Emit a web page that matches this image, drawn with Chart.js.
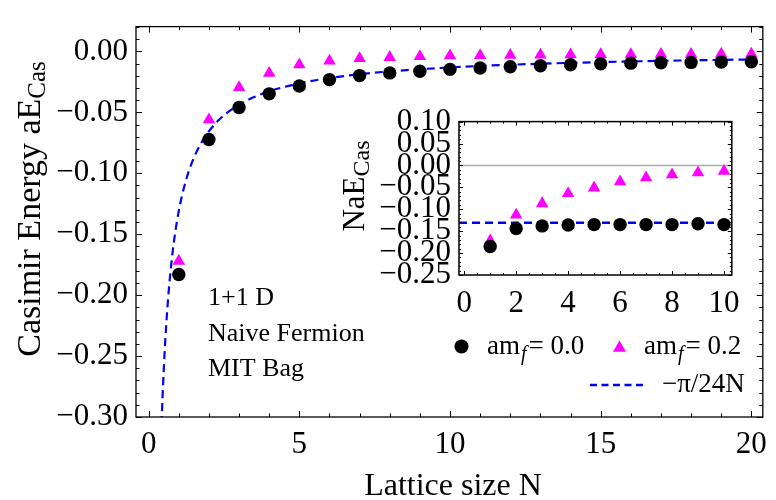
<!DOCTYPE html>
<html>
<head>
<meta charset="utf-8">
<script src="https://cdn.jsdelivr.net/npm/chart.js@4.4.1/dist/chart.umd.min.js"></script>
<style>
  html, body { margin: 0; padding: 0; background: #fff; }
  #wrap { position: relative; width: 776px; height: 500px; }
  #mainChart { position: absolute; left: 0; top: 0; }
  #insetChart { position: absolute; left: 330px; top: 95px; }
</style>
</head>
<body>
<div id="wrap">
  <canvas id="mainChart" width="776" height="500"></canvas>
  <canvas id="insetChart" width="420" height="220"></canvas>
</div>
<script>
// data
let latticeN = [1, 2, 3, 4, 5, 6, 7, 8, 9, 10, 11, 12, 13, 14, 15, 16, 17, 18, 19, 20];
let energyMassless = [-0.183, -0.0723, -0.046, -0.0348, -0.0283, -0.0231, -0.0198, -0.0176, -0.0163, -0.0147,
  -0.0136, -0.0125, -0.0117, -0.0109, -0.0101, -0.0096, -0.0093, -0.0090, -0.0087, -0.0084];
let energyMassive = [-0.172, -0.056, -0.0295, -0.0178, -0.0108, -0.0078, -0.0058, -0.0048, -0.0040, -0.0035,
  -0.0032, -0.0030, -0.0028, -0.0026, -0.0025, -0.0024, -0.0023, -0.0022, -0.0021, -0.0020];

let insetN = [1, 2, 3, 4, 5, 6, 7, 8, 9, 10];
let scaledMassless = [-0.185, -0.144, -0.138, -0.136, -0.135, -0.135, -0.135, -0.135, -0.133, -0.135];
let scaledMassive = [-0.172, -0.113, -0.087, -0.064, -0.051, -0.037, -0.028, -0.021, -0.0165, -0.013];

// N values where the -pi/24N reference curve is sampled
let curveN = [0.4, 0.42, 0.44, 0.46, 0.48, 0.5, 0.55, 0.6, 0.65, 0.7, 0.8, 0.9, 1, 1.1, 1.25, 1.4, 1.6, 1.8,
  2, 2.3, 2.6, 3, 3.5, 4, 5, 6, 7, 8, 10, 12, 14, 17, 20];

let mainXTicks = [0, 5, 10, 15, 20];
let mainYTicks = [-0.30, -0.25, -0.20, -0.15, -0.10, -0.05, 0.00];
let insetXTicks = [0, 2, 4, 6, 8, 10];
let insetYTicks = [-0.25, -0.20, -0.15, -0.10, -0.05, 0.00, 0.05, 0.10];

let serif = '"Liberation Serif", "Times New Roman", serif';
let blue = '#0000ff';
let magenta = '#ff00ff';

function range(a, b, step) {
  let out = [];
  for (let v = a; v <= b + 1e-9; v += step) out.push(Math.round(v * 1000) / 1000);
  return out;
}

function fmtY(v) {
  return (v < -1e-9 ? '\u2212' : '') + Math.abs(v).toFixed(2);
}

// pi/24N analytic reference (the legend's curve)
let curvePts = curveN.map(n => ({x: n, y: -Math.PI / (24 * n)}));
let insetLevel = -Math.PI / 24;

// inward frame ticks on all four sides, like Mathematica frames
let frameTicks = {
  id: 'frameTicks',
  afterDatasetsDraw(chart, args, o) {
    let ctx = chart.ctx;
    let a = chart.chartArea;
    let xs = chart.scales.x, ys = chart.scales.y;
    ctx.save();
    ctx.strokeStyle = '#000';
    ctx.lineWidth = 1;
    ctx.beginPath();
    let xt = (vals, len) => vals.forEach(v => {
      let p = Math.round(xs.getPixelForValue(v)) + 0.5;
      ctx.moveTo(p, a.bottom); ctx.lineTo(p, a.bottom - len);
      ctx.moveTo(p, a.top); ctx.lineTo(p, a.top + len);
    });
    let yt = (vals, len) => vals.forEach(v => {
      let p = Math.round(ys.getPixelForValue(v)) + 0.5;
      ctx.moveTo(a.left, p); ctx.lineTo(a.left + len, p);
      ctx.moveTo(a.right, p); ctx.lineTo(a.right - len, p);
    });
    xt(o.xMinor, o.minor); xt(o.xMajor, o.major);
    yt(o.yMinor, o.minor); yt(o.yMajor, o.major);
    ctx.stroke();
    ctx.lineWidth = o.frameWidth;
    ctx.strokeRect(a.left, a.top, a.right - a.left, a.bottom - a.top);
    ctx.restore();
  }
};

// text with a subscript, rotated to read bottom to top
function rotatedSub(ctx, bx, cy, main, sub, size, subSize, drop) {
  ctx.save();
  ctx.translate(bx, cy);
  ctx.rotate(-Math.PI / 2);
  ctx.font = size + 'px ' + serif;
  let w1 = ctx.measureText(main).width;
  ctx.font = subSize + 'px ' + serif;
  let w2 = ctx.measureText(sub).width;
  let x0 = -(w1 + w2) / 2;
  ctx.fillStyle = '#000';
  ctx.textBaseline = 'alphabetic';
  ctx.textAlign = 'left';
  ctx.font = size + 'px ' + serif;
  ctx.fillText(main, x0, 0);
  ctx.font = subSize + 'px ' + serif;
  ctx.fillText(sub, x0 + w1, drop);
  ctx.restore();
}

function amfLabel(ctx, x, y, value) {
  ctx.font = '27px ' + serif;
  ctx.fillText('am', x, y);
  x += ctx.measureText('am').width;
  ctx.font = 'italic 20px ' + serif;
  ctx.fillText('f', x + 1, y + 6);
  x += ctx.measureText('f').width + 3;
  ctx.font = '27px ' + serif;
  ctx.fillText('= ' + value, x, y);
}

function triangle(ctx, cx, cy, r) {
  ctx.beginPath();
  ctx.moveTo(cx, cy - r);
  ctx.lineTo(cx + r * 0.866, cy + r * 0.5);
  ctx.lineTo(cx - r * 0.866, cy + r * 0.5);
  ctx.closePath();
  ctx.fill();
}

let mainText = {
  id: 'mainText',
  afterDraw(chart) {
    let ctx = chart.ctx;
    ctx.save();
    rotatedSub(ctx, 40, 209, 'Casimir Energy aE', 'Cas', 34, 25, 5);

    ctx.fillStyle = '#000';
    ctx.textAlign = 'center';
    ctx.textBaseline = 'alphabetic';
    ctx.font = '32px ' + serif;
    ctx.fillText('Lattice size N', 453, 495);

    ctx.textAlign = 'left';
    ctx.font = '26px ' + serif;
    ctx.fillText('1+1 D', 208, 305);
    ctx.fillText('Naive Fermion', 208, 341);
    ctx.fillText('MIT Bag', 208, 376);

    // legend
    ctx.beginPath();
    ctx.arc(461.5, 346.5, 7, 0, Math.PI * 2);
    ctx.fill();
    amfLabel(ctx, 487, 354, '0.0');
    ctx.fillStyle = magenta;
    triangle(ctx, 619.5, 348, 7.5);
    ctx.fillStyle = '#000';
    amfLabel(ctx, 644, 354, '0.2');

    ctx.strokeStyle = blue;
    ctx.lineWidth = 2.5;
    ctx.setLineDash([7, 4.5]);
    ctx.beginPath();
    ctx.moveTo(590, 385);
    ctx.lineTo(645, 385);
    ctx.stroke();
    ctx.setLineDash([]);
    ctx.font = '27px ' + serif;
    ctx.fillText('\u2212\u03c0/24N', 662, 392);
    ctx.restore();
  }
};

let insetText = {
  id: 'insetText',
  afterDraw(chart) {
    rotatedSub(chart.ctx, 34, 91, 'NaE', 'Cas', 31, 24, 5);
  }
};

new Chart(document.getElementById('mainChart'), {
  type: 'scatter',
  data: {
    datasets: [{
      label: 'am_f = 0.0',
      data: latticeN.map((n, i) => ({x: n, y: energyMassless[i]})),
      pointStyle: 'circle',
      pointRadius: 6.7,
      backgroundColor: '#000',
      borderWidth: 0
    }, {
      label: 'am_f = 0.2',
      data: latticeN.map((n, i) => ({x: n, y: energyMassive[i]})),
      pointStyle: 'triangle',
      pointRadius: 7.2,
      backgroundColor: magenta,
      borderWidth: 0
    }, {
      label: '-pi/24N',
      type: 'line',
      data: curvePts,
      borderColor: blue,
      borderWidth: 2.2,
      borderDash: [8, 5],
      pointRadius: 0,
      cubicInterpolationMode: 'monotone',
      fill: false
    }]
  },
  options: {
    responsive: false,
    animation: false,
    devicePixelRatio: 1,
    layout: {padding: {left: 0, right: 6, top: 24, bottom: 0}},
    plugins: {
      legend: {display: false},
      tooltip: {enabled: false},
      frameTicks: {
        xMajor: mainXTicks, xMinor: range(0, 20, 1),
        yMajor: mainYTicks, yMinor: range(-0.30, 0.02, 0.01),
        major: 6, minor: 3.5, frameWidth: 1.3
      }
    },
    scales: {
      x: {
        type: 'linear', min: -0.42, max: 20.38,
        grid: {display: false, drawTicks: false}, border: {display: false},
        afterBuildTicks: s => { s.ticks = mainXTicks.map(v => ({value: v})); },
        afterFit: s => { s.height = 83; },
        ticks: {font: {family: serif, size: 31}, color: '#000', padding: 9, maxRotation: 0, autoSkip: false,
          callback: v => String(v)}
      },
      y: {
        type: 'linear', min: -0.30, max: 0.0204,
        grid: {display: false, drawTicks: false}, border: {display: false},
        afterBuildTicks: s => { s.ticks = mainYTicks.map(v => ({value: v})); },
        afterFit: s => { s.width = 136; },
        ticks: {font: {family: serif, size: 31}, color: '#000', padding: 8, autoSkip: false, callback: fmtY}
      }
    }
  },
  plugins: [frameTicks, mainText]
});

new Chart(document.getElementById('insetChart'), {
  type: 'scatter',
  data: {
    datasets: [{
      label: 'am_f = 0.0',
      data: insetN.map((n, i) => ({x: n, y: scaledMassless[i]})),
      pointStyle: 'circle',
      pointRadius: 6.7,
      backgroundColor: '#000',
      borderWidth: 0
    }, {
      label: 'am_f = 0.2',
      data: insetN.map((n, i) => ({x: n, y: scaledMassive[i]})),
      pointStyle: 'triangle',
      pointRadius: 7.2,
      backgroundColor: magenta,
      borderWidth: 0
    }, {
      label: '-pi/24',
      type: 'line',
      data: [{x: -0.2, y: insetLevel}, {x: 10.3, y: insetLevel}],
      borderColor: blue,
      borderWidth: 2.5,
      borderDash: [8, 5],
      pointRadius: 0
    }, {
      label: 'zero',
      type: 'line',
      data: [{x: -0.2, y: 0}, {x: 10.3, y: 0}],
      borderColor: '#aaaaaa',
      borderWidth: 1.5,
      pointRadius: 0
    }]
  },
  options: {
    responsive: false,
    animation: false,
    devicePixelRatio: 1,
    layout: {padding: {left: 0, right: 17, top: 13, bottom: 0}},
    plugins: {
      legend: {display: false},
      tooltip: {enabled: false},
      frameTicks: {
        xMajor: insetXTicks, xMinor: range(0, 10, 0.5),
        yMajor: insetYTicks, yMinor: range(-0.25, 0.10, 0.01),
        major: 4, minor: 2, frameWidth: 1.5
      }
    },
    scales: {
      x: {
        type: 'linear', min: -0.2, max: 10.3,
        grid: {display: false, drawTicks: false}, border: {display: false},
        afterBuildTicks: s => { s.ticks = insetXTicks.map(v => ({value: v})); },
        afterFit: s => { s.height = 40; },
        ticks: {font: {family: serif, size: 31}, color: '#000', padding: 10, maxRotation: 0, autoSkip: false,
          callback: v => String(v)}
      },
      y: {
        type: 'linear', min: -0.25, max: 0.10,
        grid: {display: false, drawTicks: false}, border: {display: false},
        afterBuildTicks: s => { s.ticks = insetYTicks.map(v => ({value: v})); },
        afterFit: s => { s.width = 129; },
        ticks: {font: {family: serif, size: 31}, color: '#000', padding: 8, autoSkip: false, callback: fmtY}
      }
    }
  },
  plugins: [frameTicks, insetText]
});
</script>
</body>
</html>
